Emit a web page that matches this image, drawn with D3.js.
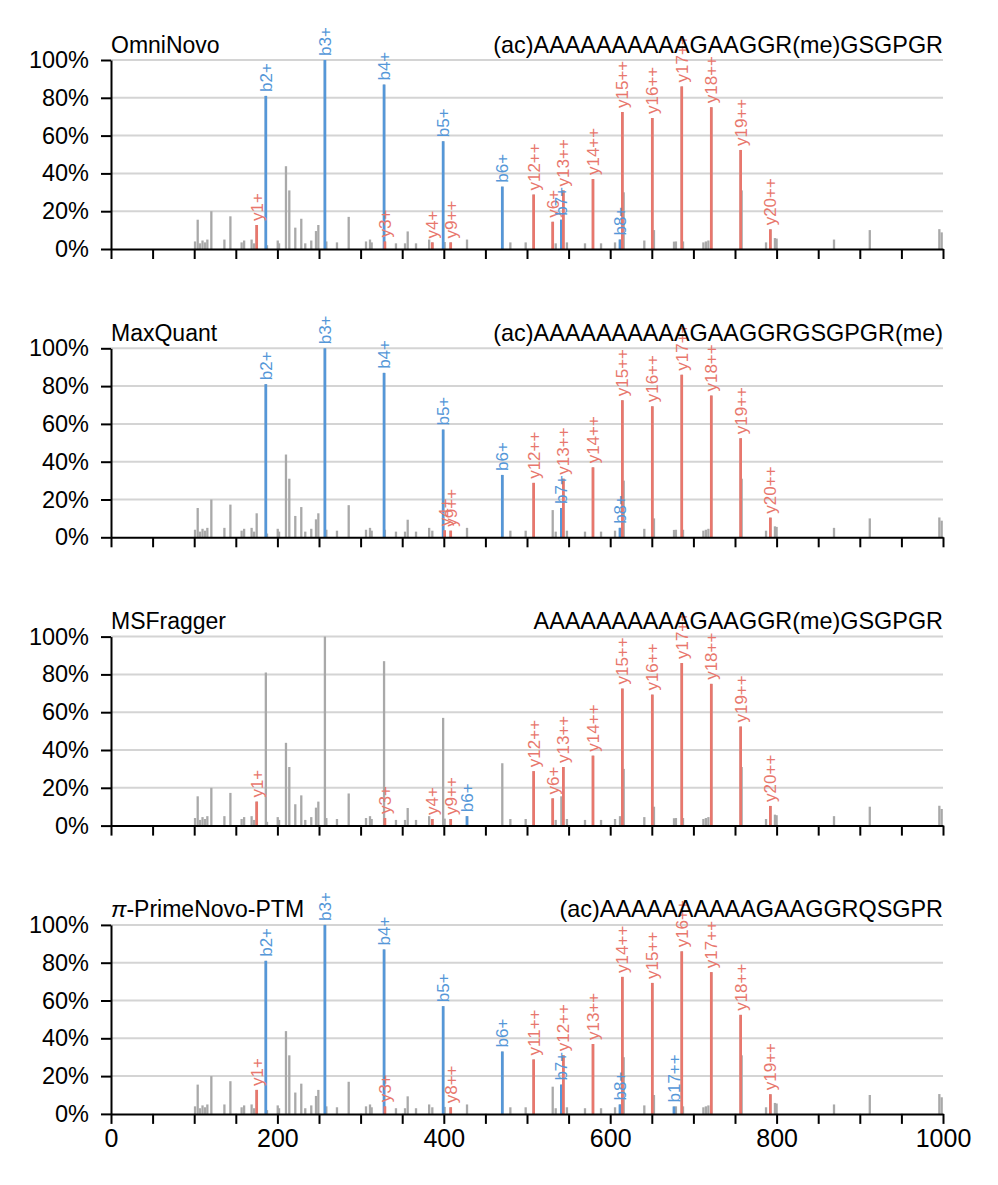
<!DOCTYPE html>
<html><head><meta charset="utf-8">
<script src="https://cdn.jsdelivr.net/npm/d3@7"></script>
<style>body{margin:0;background:#fff}svg{display:block}</style>
</head><body><svg id="c" width="998" height="1185"></svg>
<script>
// Spectrum peaks (m/z, relative intensity %)
const peakMz  = [101,104.2,107,110,113,115.8,120.6,136.3,143.5,157,160,169,172,175.1,186.1,187.5,200.4,202,210.3,214.3,221.5,228.7,233.5,240.7,246.4,249.2,257.1,258.8,271.6,285.7,306.5,311.3,313.3,328.2,329.2,342.5,353.4,356.6,366.6,382.4,386.2,399.2,401,408.3,427.9,470.3,480,498.4,508,530.9,534.5,541.3,543.7,548,569.7,579.3,589,605.8,611.8,614.6,616.2,641,650.6,652.6,676.7,679,686,687.5,712,715,718,721.5,756.8,758,787.3,792.5,798,800,869,912,995.6,998.4];
const peakInt = [4,15.5,3,4.5,3.5,5,20,5,17.3,3.5,4.5,5,3,12.7,81,2,4.5,3,43.8,31,11.3,16,3,4.5,9.5,12.7,100,4,3.5,17,4,5,3.5,87,4,3,3,9.3,3,5,3.5,57,3.7,3.5,5,33,3.5,3.5,28.8,14.4,3,15.5,31,3.5,3,37,3,3.5,5,72.5,30,4.5,69.3,10,3.9,4,86,4,3.5,4,4.5,75,52.4,31,3.5,10.4,5.8,5.5,5,10,10.5,8.8];

const panelNames = ["OmniNovo","MaxQuant","MSFragger","π-PrimeNovo-PTM"];
const panelSeqs  = ["(ac)AAAAAAAAAAGAAGGR(me)GSGPGR","(ac)AAAAAAAAAAGAAGGRGSGPGR(me)","AAAAAAAAAAGAAGGR(me)GSGPGR","(ac)AAAAAAAAAAGAAGGRQSGPR"];

const omniLabels = ["y1+","b2+","b3+","b4+","y3+","y4+","b5+","y9++","b6+","y12++","y6+","b7+","y13++","y14++","b8+","y15++","y16++","y17++","y18++","y19++","y20++"];
const omniMz     = [175.1,186.1,257.1,328.2,329.2,386.2,399.2,408.3,470.3,508,530.9,541.3,543.7,579.3,611.8,614.6,650.6,686,721.5,756.8,792.5];
const mqLabels = ["b2+","b3+","b4+","b5+","y4+","y9++","b6+","y12++","b7+","y13++","y14++","b8+","y15++","y16++","y17++","y18++","y19++","y20++"];
const mqMz     = [186.1,257.1,328.2,399.2,401,408.3,470.3,508,541.3,543.7,579.3,611.8,614.6,650.6,686,721.5,756.8,792.5];
const msfLabels = ["y1+","y3+","y4+","y9++","b6+","y12++","y6+","y13++","y14++","y15++","y16++","y17++","y18++","y19++","y20++"];
const msfMz     = [175.1,329.2,386.2,408.3,427.9,508,530.9,543.7,579.3,614.6,650.6,686,721.5,756.8,792.5];
const pnLabels = ["y1+","b2+","b3+","b4+","y3+","b5+","y8++","b6+","y11++","b7+","y12++","y13++","b8+","y14++","y15++","b17++","y16++","y17++","y18++","y19++"];
const pnMz     = [175.1,186.1,257.1,328.2,329.2,399.2,408.3,470.3,508,541.3,543.7,579.3,611.8,614.6,650.6,676.7,686,721.5,756.8,792.5];

const xTicks = d3.range(0,1001,50);
const yTicks = [0,20,40,60,80,100];

const annLabels = [omniLabels, mqLabels, msfLabels, pnLabels];
const annMz = [omniMz, mqMz, msfMz, pnMz];

const BLUE = "#5597d8", RED = "#e8776d", GREY = "#a9a9a9";
const FONT = "'Liberation Sans', Arial, Helvetica, sans-serif";

const svg = d3.select("#c");
const x = d3.scaleLinear().domain([0,1000]).range([111,943]);
const peaks = peakMz.map((m,i)=>({mz:m, int:peakInt[i]}));
function intensityAt(m){ let best=peaks[0]; for(const p of peaks){ if(Math.abs(p.mz-m)<Math.abs(best.mz-m)) best=p; } return best.int; }

panelNames.forEach((name, pi) => {
  const top = 60 + pi*288.3, h = 189;
  const y = d3.scaleLinear().domain([0,100]).range([top+h, top]);
  const g = svg.append("g");
  // grid
  g.selectAll(".grid").data(yTicks.filter(d=>d>0)).join("line")
    .attr("x1", x(0)).attr("x2", x(1000)).attr("y1", d=>y(d)).attr("y2", d=>y(d))
    .attr("stroke", "#d4d4d4").attr("stroke-width", 2);
  // grey peaks
  g.selectAll(".pk").data(peaks).join("line")
    .attr("x1", d=>x(d.mz)).attr("x2", d=>x(d.mz)).attr("y1", y(0)).attr("y2", d=>y(d.int))
    .attr("stroke", GREY).attr("stroke-width", 2.3);
  // annotated
  const ann = annLabels[pi].map((l,i)=>({label:l, mz:annMz[pi][i], int:intensityAt(annMz[pi][i]), col: l[0]==="b"?BLUE:RED}));
  g.selectAll(".an").data(ann).join("line")
    .attr("x1", d=>x(d.mz)).attr("x2", d=>x(d.mz)).attr("y1", y(0)).attr("y2", d=>y(d.int))
    .attr("stroke", d=>d.col).attr("stroke-width", 2.7);
  g.selectAll(".al").data(ann).join("text")
    .attr("transform", d=>`translate(${x(d.mz)},${y(d.int)-4}) rotate(-90)`)
    .attr("dy","0.35em").attr("fill", d=>d.col)
    .style("font-family", FONT).style("font-size","17px").text(d=>d.label);
  // axes
  const ya = g.append("g").attr("transform",`translate(${x(0)},0)`)
    .call(d3.axisLeft(y).tickValues(yTicks).tickFormat(d=>d+"%").tickSize(10).tickPadding(12).tickSizeOuter(0));
  const xa = g.append("g").attr("transform",`translate(0,${y(0)})`)
    .call(d3.axisBottom(x).tickValues(xTicks).tickFormat(d => (pi===3 && d%200===0) ? d : "").tickSize(10).tickPadding(5).tickSizeOuter(0));
  [ya,xa].forEach(a=>{
    a.selectAll("path,line").attr("stroke","#000").attr("stroke-width",2);
    a.selectAll("text").attr("fill","#000").style("font-family",FONT);
  });
  ya.selectAll("text").style("font-size","23.5px");
  xa.selectAll("text").style("font-size","25px");
  // titles
  const t = g.append("text").attr("x", x(0)).attr("y", top-7.5)
    .style("font-family",FONT).style("font-size","23px").attr("fill","#000");
  if (name.startsWith("π")) {
    t.append("tspan").style("font-style","italic").text("π");
    t.append("tspan").text(name.slice(1));
  } else t.text(name);
  g.append("text").attr("x", x(1000)).attr("y", top-7.5).attr("text-anchor","end")
    .style("font-family",FONT).style("font-size","23.4px").attr("fill","#000").text(panelSeqs[pi]);
});
</script></body></html>
